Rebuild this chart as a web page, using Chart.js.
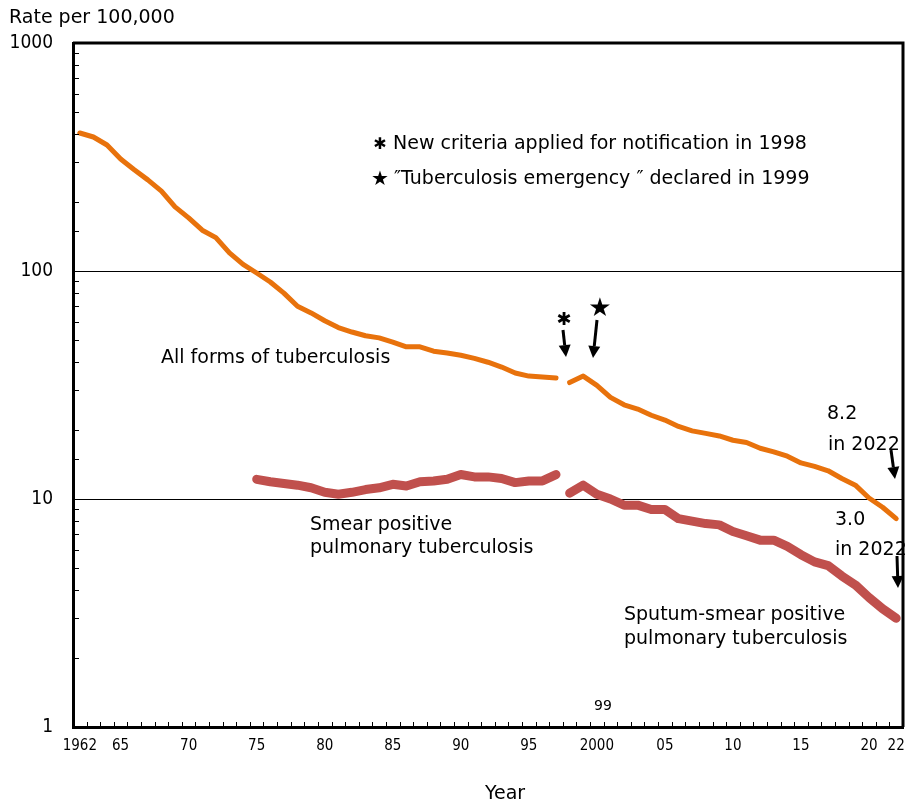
<!DOCTYPE html>
<html>
<head>
<meta charset="utf-8">
<script src="https://cdn.jsdelivr.net/npm/chart.js@4.4.1/dist/chart.umd.min.js"></script>
<style>
  html, body { margin: 0; padding: 0; background: #fff; }
  canvas { display: block; }
</style>
</head>
<body>
<canvas id="tbChart" width="906" height="805"></canvas>
<script>
// years on the x axis
const years = [
    1962, 1963, 1964, 1965, 1966, 1967, 1968, 1969, 1970, 1971,
    1972, 1973, 1974, 1975, 1976, 1977, 1978, 1979, 1980, 1981,
    1982, 1983, 1984, 1985, 1986, 1987, 1988, 1989, 1990, 1991,
    1992, 1993, 1994, 1995, 1996, 1997, 1998, 1999, 2000, 2001,
    2002, 2003, 2004, 2005, 2006, 2007, 2008, 2009, 2010, 2011,
    2012, 2013, 2014, 2015, 2016, 2017, 2018, 2019, 2020, 2021, 2022
]

// All forms of tuberculosis, 1962-1997 (old criteria)
const allFormsOld = [
    403, 387, 357, 310, 278, 251, 224, 191, 171, 151,
    140, 120, 107, 98, 89.5, 80, 70, 65.5, 60.5, 56.5,
    54, 52, 50.9, 48.8, 46.5, 46.5, 44.5, 43.7, 42.7, 41.4,
    39.8, 37.9, 35.7, 34.6, 34.3, 33.9
]

// All forms of tuberculosis, 1998-2022 (new criteria)
const allFormsNew = [
    32.4, 34.6, 31.5, 27.9, 25.9, 24.8, 23.3, 22.2, 20.8, 19.9,
    19.4, 18.9, 18.1, 17.7, 16.7, 16.1, 15.4, 14.4, 13.9, 13.3,
    12.3, 11.5, 10.1, 9.2, 8.2
]

// Smear positive pulmonary tuberculosis, 1975-1997
const smearOld = [
    12.2, 11.9, 11.7, 11.5, 11.2, 10.7, 10.5, 10.7, 11.0, 11.2,
    11.6, 11.4, 11.9, 12.0, 12.2, 12.8, 12.5, 12.5, 12.3, 11.8,
    12.0, 12.0, 12.8
]

// Sputum-smear positive pulmonary tuberculosis, 1998-2022
const sputumNew = [
    10.6, 11.5, 10.5, 10.0, 9.4, 9.4, 9.0, 9.0, 8.2, 8.0,
    7.8, 7.7, 7.2, 6.9, 6.6, 6.6, 6.2, 5.7, 5.3, 5.1,
    4.6, 4.2, 3.7, 3.3, 3.0
]

const xTickYears = [1962, 1965, 1970, 1975, 1980, 1985, 1990, 1995, 2000, 2005, 2010, 2015, 2020, 2022]
const xTickLabels = ['1962', '65', '70', '75', '80', '85', '90', '95', '2000', '05', '10', '15', '20', '22']
const yTickLabels = [1, 10, 100, 1000]

function toPoints(startYear, values){
    const start = years.indexOf(startYear)
    return values.map((v, i) => ({x: years[start + i], y: v}))
}

const ORANGE = '#E8720C'
const RED = '#C0504D'
const FONT = '"DejaVu Sans", sans-serif'

function text(ctx, str, x, y, size, align){
    ctx.font = size + 'px ' + FONT
    ctx.textAlign = align || 'left'
    ctx.textBaseline = 'alphabetic'
    ctx.fillStyle = '#000'
    ctx.fillText(str, x, y)
}

function arrow(ctx, x1, y1, x2, y2){
    const ang = Math.atan2(y2 - y1, x2 - x1)
    const headLen = 12, headW = 6
    const bx = x2 - headLen * Math.cos(ang), by = y2 - headLen * Math.sin(ang)
    ctx.strokeStyle = '#000'
    ctx.lineWidth = 3
    ctx.beginPath()
    ctx.moveTo(x1, y1)
    ctx.lineTo(bx, by)
    ctx.stroke()
    ctx.fillStyle = '#000'
    ctx.beginPath()
    ctx.moveTo(x2, y2)
    ctx.lineTo(bx + headW * Math.sin(ang), by - headW * Math.cos(ang))
    ctx.lineTo(bx - headW * Math.sin(ang), by + headW * Math.cos(ang))
    ctx.closePath()
    ctx.fill()
}

const decorations = {
    id: 'decorations',
    afterDraw(chart){
        const {ctx, chartArea: a, scales: {x, y}} = chart
        ctx.save()

        // top and right frame
        ctx.strokeStyle = '#000'
        ctx.lineWidth = 3
        ctx.beginPath()
        ctx.moveTo(a.left, a.top)
        ctx.lineTo(a.right, a.top)
        ctx.lineTo(a.right, a.bottom)
        ctx.stroke()

        // minor ticks, pointing inward
        ctx.lineWidth = 1
        ctx.beginPath()
        y.ticks.forEach(t => {
            if (yTickLabels.includes(t.value)) return
            const py = Math.round(y.getPixelForValue(t.value)) + 0.5
            ctx.moveTo(a.left, py)
            ctx.lineTo(a.left + 6, py)
        })
        for (let i = 0; i < years.length - 1; i++) {
            const px = Math.round(x.getPixelForValue(years[i] + 0.5)) + 0.5
            ctx.moveTo(px, a.bottom)
            ctx.lineTo(px, a.bottom - 5)
        }
        ctx.stroke()

        // titles
        text(ctx, 'Rate per 100,000', 9, 23, 19)
        text(ctx, 'Year', 505, 799, 19, 'center')
        text(ctx, '99', 603, 710, 14, 'center')

        // notes
        text(ctx, '\u2731', 380, 149, 16, 'center')
        text(ctx, 'New criteria applied for notification in 1998', 393, 149, 19)
        text(ctx, '\u2605', 380, 185, 20, 'center')
        text(ctx, '\u2033Tuberculosis emergency \u2033 declared in 1999', 394, 184, 19)

        // series labels
        text(ctx, 'All forms of tuberculosis', 161, 363, 19)
        text(ctx, 'Smear positive', 310, 530, 19)
        text(ctx, 'pulmonary tuberculosis', 310, 553, 19)
        text(ctx, 'Sputum-smear positive', 624, 620, 19)
        text(ctx, 'pulmonary tuberculosis', 624, 644, 19)
        text(ctx, '8.2', 827, 419, 19)
        text(ctx, 'in 2022', 828, 450, 19)
        text(ctx, '3.0', 835, 525, 19)
        text(ctx, 'in 2022', 835, 555, 19)

        // markers and arrows for 1998 / 1999
        text(ctx, '\u2731', 564, 325, 18, 'center')
        text(ctx, '\u2605', 600, 316, 26, 'center')
        arrow(ctx, 563, 330, 566, 357)
        arrow(ctx, 597, 320, 593, 358)
        arrow(ctx, 891, 450, 895, 479)
        arrow(ctx, 897, 556, 898, 588)

        ctx.restore()
    }
}

new Chart(document.getElementById('tbChart'), {
    type: 'line',
    data: {
        datasets: [
            {data: toPoints(1962, allFormsOld), borderColor: ORANGE, borderWidth: 5},
            {data: toPoints(1998, allFormsNew), borderColor: ORANGE, borderWidth: 5},
            {data: toPoints(1975, smearOld), borderColor: RED, borderWidth: 9},
            {data: toPoints(1998, sputumNew), borderColor: RED, borderWidth: 9}
        ]
    },
    options: {
        responsive: false,
        animation: false,
        layout: {padding: {top: 43, right: 3, left: 0, bottom: 0}},
        elements: {
            point: {radius: 0},
            line: {tension: 0, borderCapStyle: 'round', borderJoinStyle: 'round'}
        },
        plugins: {legend: {display: false}, tooltip: {enabled: false}},
        scales: {
            x: {
                type: 'linear',
                min: 1961.5,
                max: 2022.5,
                afterFit: s => { s.height = 78; s.paddingLeft = 0; s.paddingRight = 0 },
                afterBuildTicks: s => { s.ticks = xTickYears.map(v => ({value: v})) },
                grid: {display: false, drawTicks: false},
                border: {display: true, color: '#000', width: 3},
                ticks: {
                    autoSkip: false,
                    maxRotation: 0,
                    padding: 10,
                    color: '#000',
                    font: {family: '"DejaVu Sans Condensed", sans-serif', size: 15},
                    callback: v => xTickLabels[xTickYears.indexOf(v)]
                }
            },
            y: {
                type: 'logarithmic',
                min: 1,
                max: 1000,
                afterFit: s => { s.width = 73; s.paddingTop = 0; s.paddingBottom = 0 },
                grid: {
                    drawTicks: false,
                    lineWidth: 1,
                    color: c => (c.tick && (c.tick.value === 10 || c.tick.value === 100)) ? '#000' : 'rgba(0,0,0,0)'
                },
                border: {display: true, color: '#000', width: 3},
                ticks: {
                    autoSkip: false,
                    padding: 20,
                    color: '#000',
                    font: {family: '"DejaVu Sans Condensed", sans-serif', size: 19},
                    callback: v => yTickLabels.includes(v) ? String(v) : ''
                }
            }
        }
    },
    plugins: [decorations]
})
</script>
</body>
</html>
